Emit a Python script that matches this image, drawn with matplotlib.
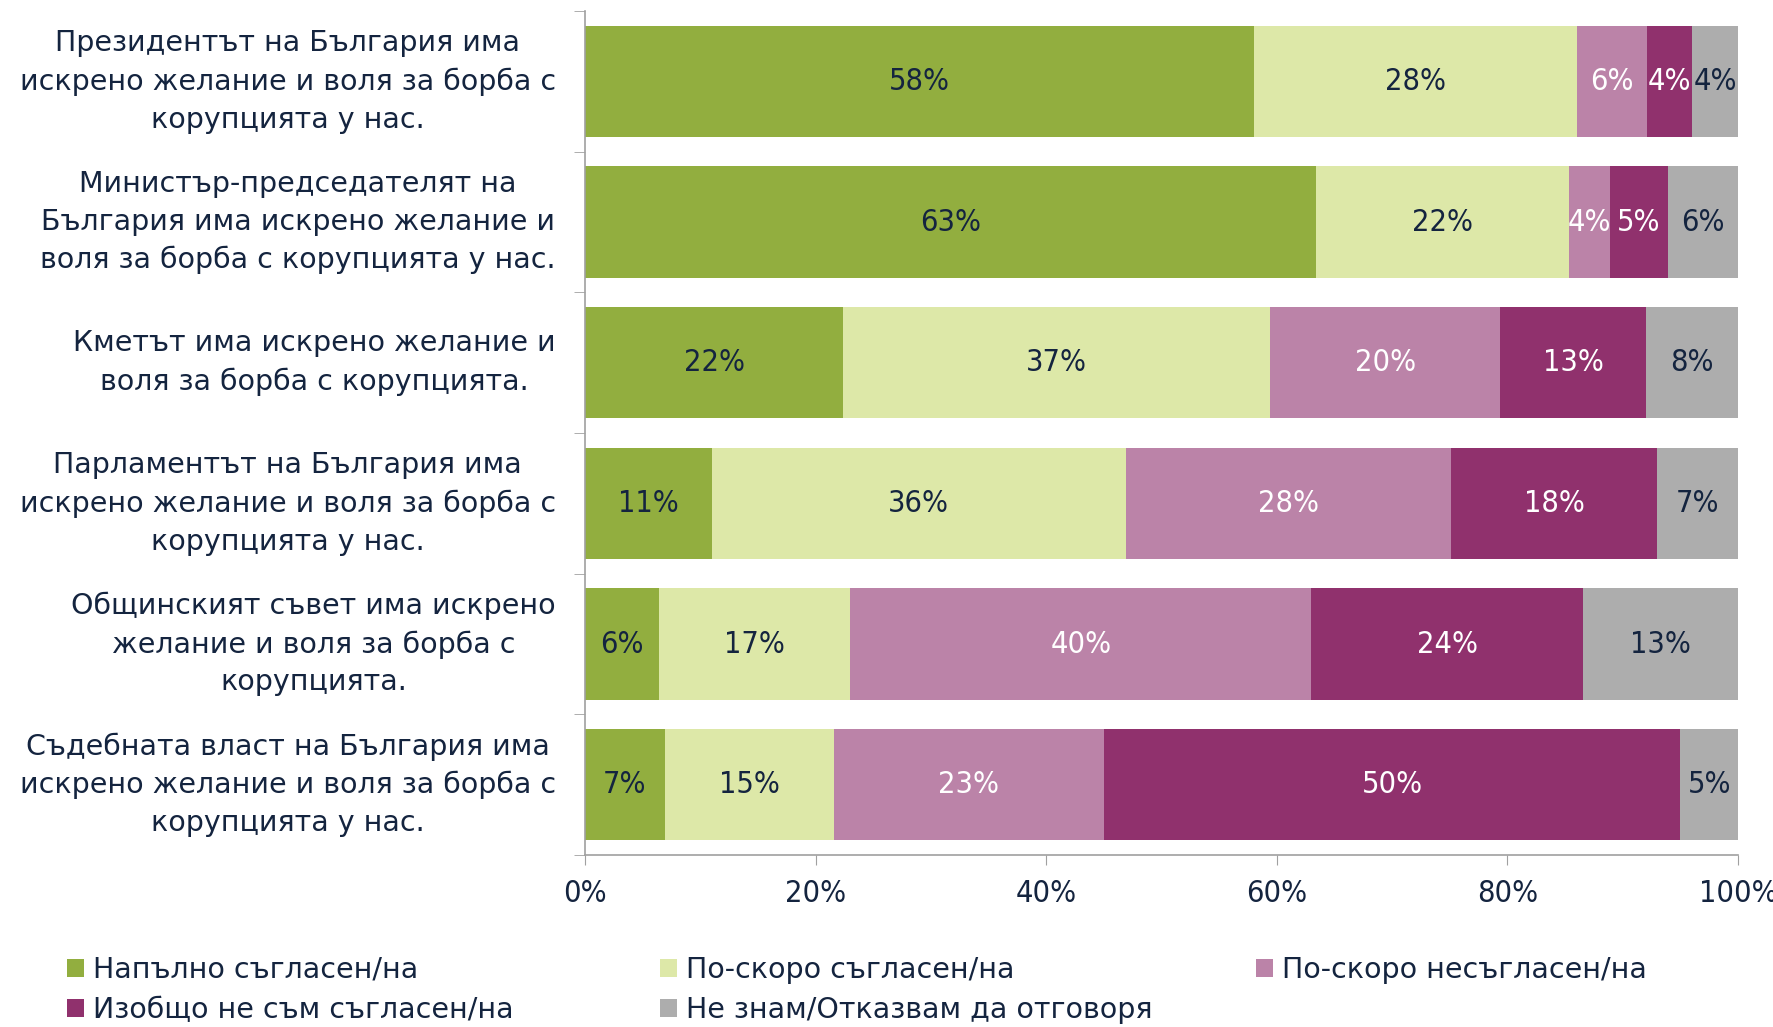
import numpy as np
import matplotlib.pyplot as plt
from matplotlib.ticker import FuncFormatter

# Statements (rows, top to bottom)
categories = [
    "Президентът на България има\nискрено желание и воля за борба с\nкорупцията у нас.",
    "Министър-председателят на\nБългария има искрено желание и\nволя за борба с корупцията у нас.",
    "Кметът има искрено желание и\nволя за борба с корупцията.",
    "Парламентът на България има\nискрено желание и воля за борба с\nкорупцията у нас.",
    "Общинският съвет има искрено\nжелание и воля за борба с\nкорупцията.",
    "Съдебната власт на България има\nискрено желание и воля за борба с\nкорупцията у нас.",
]

series_names = [
    "Напълно съгласен/на",
    "По-скоро съгласен/на",
    "По-скоро несъгласен/на",
    "Изобщо не съм съгласен/на",
    "Не знам/Отказвам да отговоря",
]

# shares in %
fully_agree     = [58.0, 63.4, 22.4, 11.0,  6.4,  6.9]
rather_agree    = [28.0, 21.9, 37.0, 35.9, 16.6, 14.7]
rather_disagree = [ 6.1,  3.6, 20.0, 28.2, 40.0, 23.4]
not_at_all      = [ 3.9,  5.0, 12.6, 17.9, 23.6, 50.0]
dont_know       = [ 4.0,  6.1,  8.0,  7.0, 13.4,  5.0]

colors = ['#92AE3F', '#DDE8A8', '#BB83A8', '#90316D', '#ADADAD']
label_colors = ['#14243F', '#14243F', 'white', 'white', '#14243F']
navy = '#14243F'

data = np.array([fully_agree, rather_agree, rather_disagree, not_at_all, dont_know])

fig = plt.figure(figsize=(17.74, 10.27), dpi=100)
ax = fig.add_axes([585/1774, 1-855/1027, (1738-585)/1774, (855-11)/1027])

y = np.arange(len(categories))
left = np.zeros(len(categories))
bars = []
for i, name in enumerate(series_names):
    b = ax.barh(y, data[i], left=left, height=0.79, color=colors[i], label=name)
    bars.append(b)
    for yy, l, w in zip(y, left, data[i]):
        ax.text(l + w/2, yy, f"{w:.0f}%", ha='center', va='center',
                fontsize=22, color=label_colors[i], fontstretch='condensed')
    left = left + data[i]

ax.set_xlim(0, 100)
ax.set_ylim(len(categories)-0.5, -0.5)
ax.set_xticks(np.arange(0, 101, 20))
ax.xaxis.set_major_formatter(FuncFormatter(lambda v, p: f"{v:.0f}%"))
ax.set_yticks(y)
ax.set_yticklabels(categories, fontsize=20.5, color=navy, ha='right', va='center',
                   multialignment='center', linespacing=1.45)
ax.set_yticks(np.arange(-0.5, len(categories)), minor=True)
ax.tick_params(axis='y', which='major', length=0, pad=21)
ax.tick_params(axis='y', which='minor', length=8, color='#A0A0A0')
ax.tick_params(axis='x', length=7, color='#A0A0A0', labelsize=22, labelcolor=navy, pad=10)
for t in ax.get_xticklabels():
    t.set_fontstretch('condensed')

for s in ['top', 'right']:
    ax.spines[s].set_visible(False)
for s in ['left', 'bottom']:
    ax.spines[s].set_color('#A0A0A0')
    ax.spines[s].set_linewidth(1.2)

# legend: three columns laid out like the original
cols = [[0, 3], [1, 4], [2]]
xs = [67/1774, 660/1774, 1256/1774]
for xpos, idx in zip(xs, cols):
    fig.legend([bars[i] for i in idx], [series_names[i] for i in idx],
               loc='upper left', bbox_to_anchor=(xpos, 1-956/1027), frameon=False,
               prop={'size': 20.5}, labelcolor=navy,
               handlelength=0.6, handleheight=0.6, handletextpad=0.3,
               labelspacing=0.42, borderaxespad=0, borderpad=0)

fig.savefig('out.png', dpi=100)
